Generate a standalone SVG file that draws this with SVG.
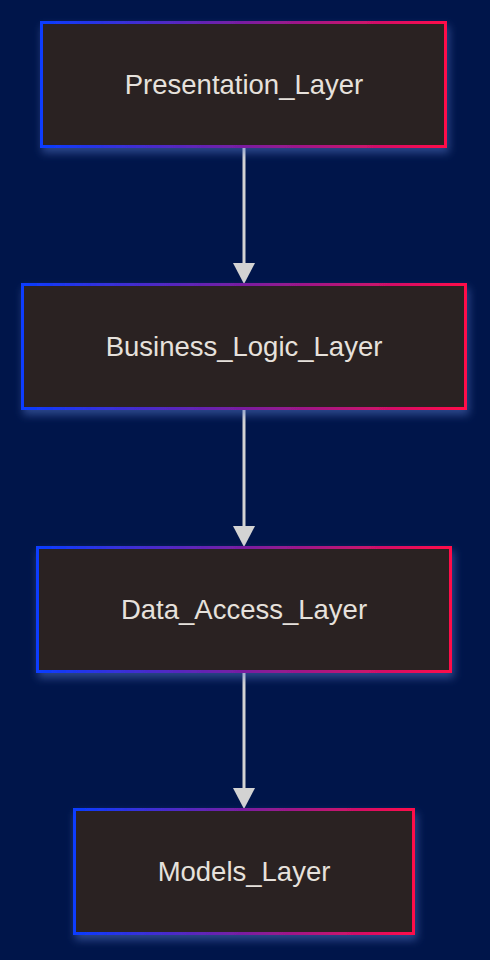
<svg xmlns="http://www.w3.org/2000/svg" width="490" height="960" viewBox="0 0 490 960">
<defs>
<linearGradient id="g" x1="0" y1="0" x2="1" y2="0">
<stop offset="0" stop-color="#0a3cff"/>
<stop offset="0.5" stop-color="#7a1ea0"/>
<stop offset="1" stop-color="#ff0a4a"/>
</linearGradient>
<filter id="sh" x="-10%" y="-20%" width="120%" height="150%">
<feGaussianBlur in="SourceAlpha" stdDeviation="4"/>
<feOffset dx="2" dy="5" result="b"/>
<feFlood flood-color="#5a7acc" flood-opacity="0.5"/>
<feComposite in2="b" operator="in"/>
<feMerge><feMergeNode/><feMergeNode in="SourceGraphic"/></feMerge>
</filter>
</defs>
<style>
.n{fill:#2c2321;stroke:url(#g);stroke-width:3;filter:url(#sh)}
.t{font-family:"Liberation Sans",Arial,sans-serif;font-size:27.5px;fill:#e6e1dc;text-anchor:middle;dominant-baseline:central}
.e{stroke:#d3d3d3;stroke-width:3;fill:none}
.a{fill:#d3d3d3}
</style>
<rect width="490" height="960" fill="#00154a"/>
<g id="edges">
<line class="e" x1="244" y1="147" x2="244" y2="264"/>
<path class="a" d="M233,263 L255,263 L244,284 Z"/>
<line class="e" x1="244" y1="409" x2="244" y2="527"/>
<path class="a" d="M233,526 L255,526 L244,547 Z"/>
<line class="e" x1="244" y1="672" x2="244" y2="789"/>
<path class="a" d="M233,788 L255,788 L244,809 Z"/>
</g>
<g id="presentation">
<rect class="n" x="41.5" y="22.5" width="404" height="124"/>
<text class="t" x="244" y="84">Presentation_Layer</text>
</g>
<g id="business">
<rect class="n" x="22.5" y="284.5" width="443" height="124"/>
<text class="t" x="244" y="346">Business_Logic_Layer</text>
</g>
<g id="data">
<rect class="n" x="37.5" y="547.5" width="413" height="124"/>
<text class="t" x="244" y="609">Data_Access_Layer</text>
</g>
<g id="models">
<rect class="n" x="74.5" y="809.5" width="339" height="124"/>
<text class="t" x="244" y="871">Models_Layer</text>
</g>
</svg>
